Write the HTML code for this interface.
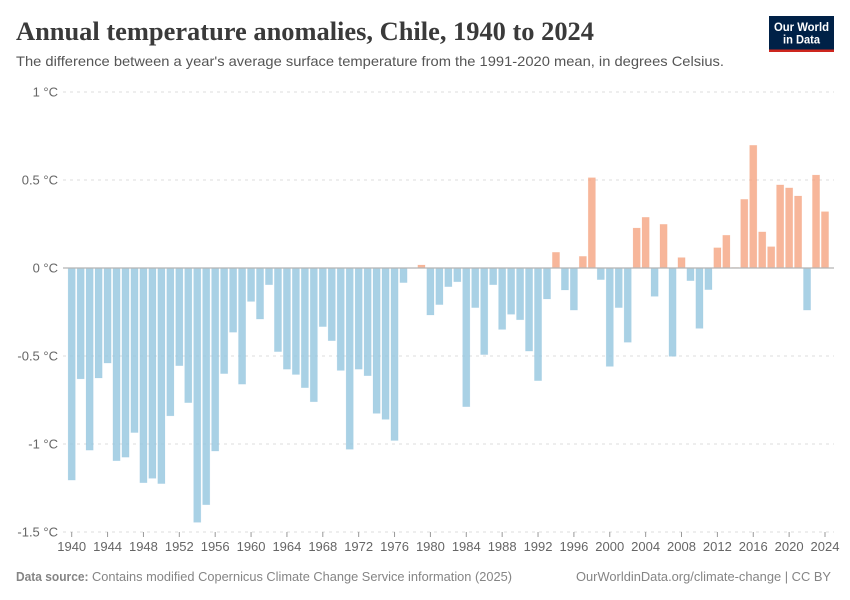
<!DOCTYPE html>
<html lang="en">
<head>
<meta charset="utf-8">
<title>Annual temperature anomalies, Chile, 1940 to 2024</title>
<style>
html,body{margin:0;padding:0;background:#fff}
svg{display:block}
text{font-family:"Liberation Sans",sans-serif}
</style>
</head>
<body>
<svg id="chart" width="850" height="600" viewBox="0 0 850 600" xmlns="http://www.w3.org/2000/svg">
  <rect x="0" y="0" width="850" height="600" fill="#fff"/>
  <text x="16" y="40" textLength="578" lengthAdjust="spacingAndGlyphs" style="font-family:'Liberation Serif',serif;font-weight:700;font-size:26px" fill="#3a3a3a">Annual temperature anomalies, Chile, 1940 to 2024</text>
  <text x="16" y="66" textLength="708" lengthAdjust="spacingAndGlyphs" font-size="14" fill="#555">The difference between a year's average surface temperature from the 1991-2020 mean, in degrees Celsius.</text>
  <g>
    <rect x="769" y="16" width="65" height="36" fill="#002147"/>
    <rect x="769" y="49.5" width="65" height="2.5" fill="#ce261e"/>
    <text x="801.5" y="31" text-anchor="middle" textLength="55" lengthAdjust="spacingAndGlyphs" font-size="11.5" font-weight="700" fill="#fff">Our World</text>
    <text x="801.5" y="43.5" text-anchor="middle" textLength="37" lengthAdjust="spacingAndGlyphs" font-size="11.5" font-weight="700" fill="#fff">in Data</text>
  </g>
  <g id="grid"></g>
  <g id="bars"></g>
  <g id="axes"></g>
  <text x="16" y="581" textLength="72.5" lengthAdjust="spacingAndGlyphs" font-size="12.5" font-weight="700" fill="#858585">Data source:</text>
  <text x="92" y="581" textLength="420" lengthAdjust="spacingAndGlyphs" font-size="12.5" fill="#858585">Contains modified Copernicus Climate Change Service information (2025)</text>
  <text x="576" y="581" textLength="255" lengthAdjust="spacingAndGlyphs" font-size="12.5" fill="#858585">OurWorldinData.org/climate-change | CC BY</text>
</svg>
<script>
const years = [1940,1941,1942,1943,1944,1945,1946,1947,1948,1949,1950,1951,1952,1953,1954,1955,1956,1957,1958,1959,1960,1961,1962,1963,1964,1965,1966,1967,1968,1969,1970,1971,1972,1973,1974,1975,1976,1977,1978,1979,1980,1981,1982,1983,1984,1985,1986,1987,1988,1989,1990,1991,1992,1993,1994,1995,1996,1997,1998,1999,2000,2001,2002,2003,2004,2005,2006,2007,2008,2009,2010,2011,2012,2013,2014,2015,2016,2017,2018,2019,2020,2021,2022,2023,2024];
const anomalies = [-1.205,-0.63,-1.035,-0.625,-0.54,-1.095,-1.075,-0.935,-1.22,-1.195,-1.225,-0.84,-0.555,-0.765,-1.445,-1.345,-1.04,-0.6,-0.365,-0.66,-0.19,-0.29,-0.095,-0.475,-0.575,-0.605,-0.68,-0.76,-0.333,-0.413,-0.582,-1.03,-0.575,-0.612,-0.826,-0.86,-0.98,-0.083,-0.002,0.017,-0.267,-0.208,-0.106,-0.078,-0.788,-0.225,-0.492,-0.095,-0.349,-0.263,-0.294,-0.472,-0.64,-0.176,0.089,-0.125,-0.239,0.066,0.513,-0.066,-0.559,-0.225,-0.422,0.227,0.288,-0.161,0.248,-0.502,0.059,-0.072,-0.343,-0.123,0.115,0.186,0.003,0.39,0.697,0.205,0.121,0.472,0.455,0.409,-0.239,0.528,0.32];
const yTickValues = [1,0.5,0,-0.5,-1,-1.5];
const yTickLabels = ["1 °C","0.5 °C","0 °C","-0.5 °C","-1 °C","-1.5 °C"];
const xTickYears = [1940,1944,1948,1952,1956,1960,1964,1968,1972,1976,1980,1984,1988,1992,1996,2000,2004,2008,2012,2016,2020,2024];

const NS = "http://www.w3.org/2000/svg";
const plotLeft = 63, plotRight = 834;
function xScale(year){ return 71.7 + (year - 1940) * (825 - 71.7) / 84; }
function yScale(v){ return 268 - v * 176; }
const barWidth = 7.2;

const gridGroup = document.getElementById("grid");
const barsGroup = document.getElementById("bars");
const axesGroup = document.getElementById("axes");

yTickValues.forEach(function(v, i){
  if (v !== 0) {
    const line = document.createElementNS(NS, "line");
    
    
    line.setAttribute("x1", plotLeft);
    line.setAttribute("x2", plotRight);
    line.setAttribute("y1", yScale(v));
    line.setAttribute("y2", yScale(v));
    line.setAttribute("stroke", "#dddddd");
    line.setAttribute("stroke-dasharray", "3,4");
    gridGroup.appendChild(line);
  }
  const label = document.createElementNS(NS, "text");
  
  
  label.setAttribute("x", 58);
  label.setAttribute("y", yScale(v) + 4.5);
  label.setAttribute("text-anchor", "end");
  label.setAttribute("font-size", "13");
  label.setAttribute("fill", "#666");
  label.textContent = yTickLabels[i];
  axesGroup.appendChild(label);
});

years.forEach(function(year, i){
  const v = anomalies[i];
  const rect = document.createElementNS(NS, "rect");
  
  
  rect.setAttribute("x", xScale(year) - barWidth / 2);
  rect.setAttribute("width", barWidth);
  rect.setAttribute("y", Math.min(yScale(v), yScale(0)));
  rect.setAttribute("height", Math.abs(yScale(v) - yScale(0)));
  rect.setAttribute("fill", v < 0 ? "#93c5de" : "#f5a481");
  rect.setAttribute("fill-opacity", "0.8");
  rect.setAttribute("stroke", v < 0 ? "#93c5de" : "#f5a481");
  rect.setAttribute("stroke-opacity", "0.25");
  rect.setAttribute("stroke-width", "0.6");
  barsGroup.appendChild(rect);
});

const zeroLine = document.createElementNS(NS, "line");


zeroLine.setAttribute("x1", plotLeft);
zeroLine.setAttribute("x2", plotRight);
zeroLine.setAttribute("y1", yScale(0));
zeroLine.setAttribute("y2", yScale(0));
zeroLine.setAttribute("stroke", "#b5b5b5");
zeroLine.setAttribute("stroke-width", "1.2");
axesGroup.appendChild(zeroLine);

xTickYears.forEach(function(year){
  const tick = document.createElementNS(NS, "line");
  
  
  tick.setAttribute("x1", xScale(year));
  tick.setAttribute("x2", xScale(year));
  tick.setAttribute("y1", yScale(-1.5));
  tick.setAttribute("y2", yScale(-1.5) + 5);
  tick.setAttribute("stroke", "#999");
  axesGroup.appendChild(tick);

  const label = document.createElementNS(NS, "text");
  
  
  label.setAttribute("x", xScale(year));
  label.setAttribute("y", 551);
  label.setAttribute("text-anchor", "middle");
  label.setAttribute("font-size", "13");
  label.setAttribute("fill", "#666");
  label.textContent = year;
  axesGroup.appendChild(label);
});
</script>
</body>
</html>
